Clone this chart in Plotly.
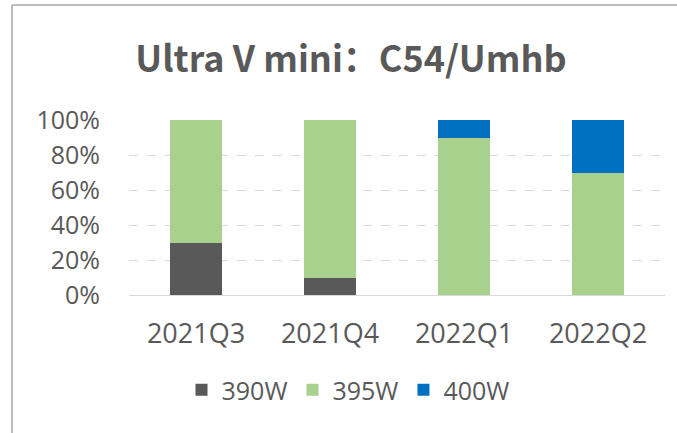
import plotly.graph_objects as go

categories = ["2021Q3", "2021Q4", "2022Q1", "2022Q2"]
s390 = [0.30, 0.10, 0.0, 0.0]
s395 = [0.70, 0.90, 0.90, 0.70]
s400 = [0.0, 0.0, 0.10, 0.30]
series_names = ["390W", "395W", "400W"]
colors = ["#595959", "#A9D18E", "#0070C0"]
y_ticks = [0, 0.2, 0.4, 0.6, 0.8, 1.0]
y_tick_labels = ["0%", "20%", "40%", "60%", "80%", "100%"]

fig = go.Figure()
for name, vals, c in zip(series_names, [s390, s395, s400], colors):
    fig.add_trace(go.Bar(x=categories, y=vals, name=name, marker=dict(color=c, line=dict(width=0))))

W, H = 677, 433
ml, mr, mt, mb = 129, 12, 120, 138
pw = W - ml - mr
ph = H - mt - mb

def px(x):
    return (x - ml) / pw

def py(y):
    return (H - mb - y) / ph

font_main = "Open Sans, Noto Sans, sans-serif"
fig.update_layout(
    width=W, height=H,
    margin=dict(l=ml, r=mr, t=mt, b=mb, autoexpand=False),
    barmode="stack",
    bargap=0.61,
    paper_bgcolor="white",
    plot_bgcolor="white",
    title=dict(text="<b>Ultra V mini：C54/Umhb</b>", x=px(351), xref="paper", xanchor="center",
               y=1 - 59 / H, yanchor="middle",
               font=dict(family="Noto Sans CJK SC, Noto Sans, sans-serif", size=36, color="#595959")),
    font=dict(family=font_main, color="#595959", size=25),
    xaxis=dict(showgrid=False, showline=True, linecolor="#d9d9d9", linewidth=1,
               tickfont=dict(size=27, color="#595959"), ticks="", ticklabelstandoff=15),
    yaxis=dict(range=[0, 1.0], tickvals=y_ticks, ticktext=y_tick_labels, showgrid=True,
               gridcolor="#d9d9d9", griddash="dash", gridwidth=1, zeroline=False,
               tickfont=dict(size=25, color="#595959"), ticklabelstandoff=28),
    legend=dict(orientation="h", x=px(348), xanchor="center", y=py(390), yanchor="middle",
                font=dict(size=25, color="#595959"), itemwidth=30, traceorder="normal",
                itemsizing="constant"),
    showlegend=True,
    shapes=[
        dict(type="line", xref="paper", yref="paper", x0=px(12), x1=px(W), y0=py(5), y1=py(5),
             line=dict(color="#a6a6a6", width=1.5)),
        dict(type="line", xref="paper", yref="paper", x0=px(12), x1=px(12), y0=py(5), y1=py(H),
             line=dict(color="#a6a6a6", width=1.5)),
    ],
)
fig.write_html("out.html", config={"displayModeBar": False},
               post_script="document.body.style.margin='0';document.body.style.overflow='hidden';")
